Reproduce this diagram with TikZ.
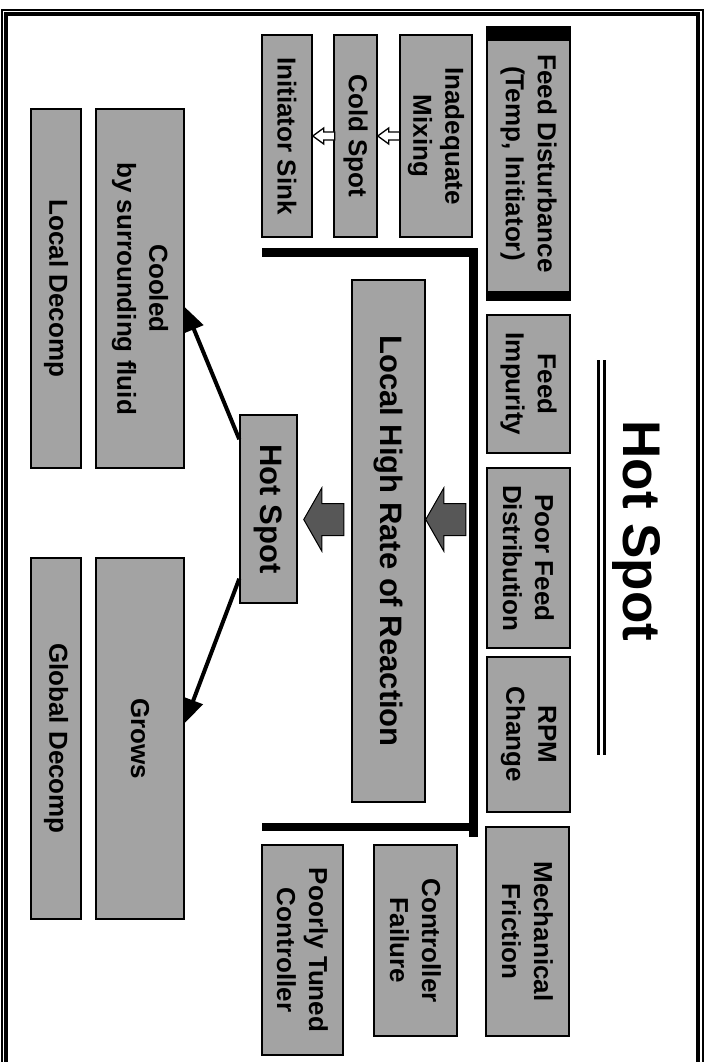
\documentclass[tikz,border=0pt]{standalone}
\usepackage{fontspec}
\setmainfont{Liberation Sans}
\usetikzlibrary{calc,arrows.meta}
\tikzset{
  box/.style={draw, line width=1.5pt, fill=black!36, rotate=-90, inner sep=0pt, align=center,
    font=\bfseries\fontsize{26}{32}\selectfont},
  bigbox/.style={box, font=\bfseries\fontsize{31}{36}\selectfont},
  bar/.style={line width=8.5pt},
  hotarrow/.style={line width=4pt, -{Triangle[length=24pt,width=20pt]}},
}
\newcommand{\fatarrow}[1]{\filldraw[fill=black!66, line width=1pt] (#1) -- ++(18,-31.5) -- ++(0,15.5) -- ++(22,0) -- ++(0,32) -- ++(-22,0) -- ++(0,15.5) -- cycle;}
\newcommand{\openarrow}[1]{\filldraw[fill=white, line width=1.3pt] (#1) -- ++(11,-8) -- ++(0,4) -- ++(11,0) -- ++(0,8) -- ++(-11,0) -- ++(0,4) -- cycle;}

\begin{document}
\begin{tikzpicture}[x=1pt,y=-1pt]
\useasboundingbox (0,0) rectangle (708,1062);
\draw[line width=4pt] (5.5,1062) |- (698,14.5) -- (698,1062); % frame
\draw[line width=2pt] (1.5,1062) |- (703,10) -- (703,1062);

\node[rotate=-90, anchor=base, font=\bfseries\fontsize{53}{60}\selectfont] (title) at (623,531) {Hot Spot}; % title
\draw[line width=3pt] (598,360) -- (598,755);
\draw[line width=3pt] (604,360) -- (604,755);

% causes
\node[box, minimum width=273pt, minimum height=83pt] (fd) at (528.5,163.5) {Feed Disturbance\\(Temp, Initiator)};
\fill (fd.south west) rectangle ($(fd.north west)+(0,15)$);
\fill (fd.south east) rectangle ($(fd.north east)+(0,-10)$);
\node[box, minimum width=138pt, minimum height=83pt] (fimp) at (528.5,384) {Feed\\Impurity};
\node[box, minimum width=180pt, minimum height=83pt] (pfd) at (528.5,558) {Poor Feed\\Distribution};
\node[box, minimum width=155pt, minimum height=83pt] (rpm) at (528.5,734.5) {RPM\\Change};
\node[box, minimum width=209pt, minimum height=83pt] (mf) at (527.5,931.5) {Mechanical\\Friction};
\node[box, minimum width=191pt, minimum height=83pt] (cfail) at (415.5,940.5) {Controller\\Failure};
\node[box, minimum width=210pt, minimum height=81pt] (ptc) at (302.5,950) {Poorly Tuned\\Controller};

% cold spot chain
\node[box, minimum width=202pt, minimum height=72pt] (mix) at (436,136) {Inadequate\\Mixing};
\node[box, minimum width=202pt, minimum height=43pt] (cold) at (355.5,136) {Cold Spot};
\node[box, minimum width=202pt, minimum height=50pt] (sink) at (287,136) {Initiator Sink};
\openarrow{cold.north}
\openarrow{sink.north}

% bracket
\draw[bar] (262,252.5) -- (473.5,252.5) -- (473.5,837);
\draw[bar] (262,827) -- (473.5,827);

\node[bigbox, minimum width=522pt, minimum height=73pt] (lhrr) at (388.5,541) {Local High Rate of Reaction};
\node[bigbox, minimum width=188pt, minimum height=57pt] (hot) at (268.5,509) {Hot Spot};
\fatarrow{$(lhrr.north)+(0,-21.5)$}
\fatarrow{$(hot.north)+(6,10.5)$}

% outcomes
\node[box, minimum width=359pt, minimum height=88pt] (cool) at (140,288.5) {Cooled\\by surrounding fluid};
\node[box, minimum width=359pt, minimum height=50pt] (ldec) at (56,288.5) {Local Decomp};
\node[box, minimum width=361pt, minimum height=88pt] (grow) at (140,738.5) {Grows};
\node[box, minimum width=361pt, minimum height=50pt] (gdec) at (56,738.5) {Global Decomp};
\draw[hotarrow] ($(hot.south west)+(0,25)$) -- ($(cool.north)+(0,18.5)$);
\draw[hotarrow] ($(hot.south east)+(0,-25)$) -- ($(grow.north)+(0,-15.5)$);
\end{tikzpicture}
\end{document}
